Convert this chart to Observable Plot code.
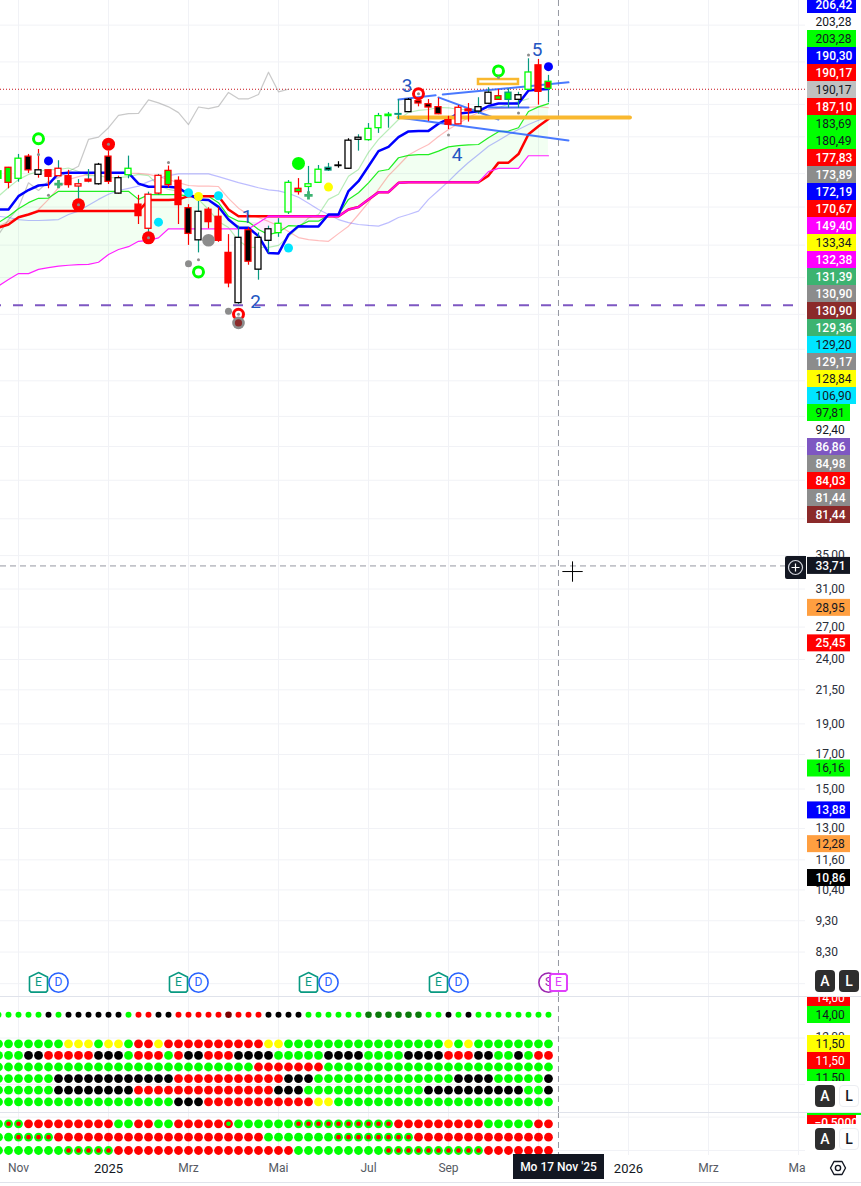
<!doctype html>
<html><head><meta charset="utf-8">
<style>
html,body{margin:0;background:#fff;overflow:hidden}
#stage{position:relative;width:861px;height:1186px;overflow:hidden;font-family:Roboto,sans-serif;background:#fff}
#stage>*{position:absolute}
.hl{left:0;width:861px;height:1px;background:#e0e3eb}
.btn{width:20px;height:22px;border-radius:4px;font:500 14px/22px Roboto,sans-serif;text-align:center}
.dark{background:#2e2e2e;color:#fff}
.light{background:#fff;color:#131722;border:1px solid #eceef2;box-sizing:border-box;line-height:20px}
</style>
<script src="https://cdn.jsdelivr.net/npm/d3@7"></script>
<script src="https://cdn.jsdelivr.net/npm/@observablehq/plot@0.6"></script>
</head><body><div id="stage"></div>
<script>
// ---------- time ----------
const weeks = d3.utcMonday.range(new Date("2024-10-21"), new Date("2025-11-11"));
const xDomain = [new Date("2024-10-22T09:36Z"), new Date("2026-05-08T22:00Z")];
const crossDate = new Date("2025-11-17");
const tickDates = ["2024-11-04","2025-01-06","2025-03-03","2025-05-05","2025-07-07","2025-09-01","2025-11-03","2026-01-05","2026-03-02","2026-05-04"].map(d=>new Date(d));
const tickNames = ["Nov","2025","Mrz","Mai","Jul","Sep","","2026","Mrz","Mai"];

// ---------- candles (one per week) ----------
const bodyTop = [141.2,143.0,147.8,148.9,141.7,141.7,142.5,138.7,134.7,137.0,144.6,148.9,137.7,142.5,125.1,129.7,138.9,141.4,136.4,123.5,121.9,122.8,119.7,105.0,110.9,114.0,110.9,114.4,116.7,135.4,132.5,134.7,142.0,143.0,144.2,157.8,159.5,164.7,172.5,173.4,173.8,183.0,182.1,180.1,178.2,170.0,177.8,176.7,178.2,187.8,185.4,187.8,186.1,202.1,207.4,195.4];
const bodyBottom = [137.4,135.4,137.4,141.7,139.4,138.4,138.7,134.3,133.6,136.0,134.7,135.9,130.2,139.2,120.0,114.6,130.2,134.3,124.9,112.5,109.9,117.4,109.7,94.0,87.5,101.7,98.8,109.7,112.8,121.6,130.9,133.4,135.4,141.6,143.9,142.5,158.3,158.1,165.1,172.5,173.4,175.0,180.6,178.0,173.7,167.2,167.4,175.6,175.4,180.4,183.0,183.0,183.0,189.8,188.4,190.5];
const high = [143.2,143.2,150.1,150.1,152.8,141.7,146.7,141.7,137.0,142.1,145.3,151.9,138.7,149.2,129.4,130.9,139.6,143.9,138.4,125.1,127.5,123.7,123.7,112.2,115.7,115.0,112.9,115.7,118.9,136.5,137.5,143.7,144.2,145.3,146.2,158.9,161.2,167.9,174.2,174.8,183.2,183.9,183.9,183.2,184.1,172.4,179.3,180.6,184.4,191.2,190.0,190.5,188.1,212.4,211.9,200.0];
const low = [136.0,132.5,135.7,140.1,137.7,132.5,138.7,132.8,127.5,135.4,134.3,134.6,129.9,137.4,116.4,112.2,129.4,133.0,116.4,107.9,105.0,114.6,109.1,92.5,87.1,100.4,95.1,104.8,111.1,120.7,129.5,129.9,135.1,141.1,142.8,142.1,151.9,157.5,162.0,165.1,170.4,174.8,178.4,169.2,173.4,164.3,167.2,168.8,173.7,180.0,182.7,177.5,177.5,189.3,179.5,181.0];
const bodyFill = "g g w k w r w r w r w k w w r w w g r k w r r r w k w w w w g w w k k w w w w g t w k k k r w r w w g g w w r r".split(" ");
const bodyLine = "g r g r k r r r r r k r k g r r r r r r k r r r k r k k g g r g g t k k k g g g t k r r r r r r k k r t k g r g".split(" ");
const wickLine = "t r t r r r t r t t k r r t r t t r r r t r r r t r t t t t r t t t k k t t t t t k r r r r r r t t r t t t r t".split(" ");
const candleColors = {g:"#00ff00",r:"#ff0000",k:"#000000",w:"#ffffff",t:"#089981"};

// ---------- indicator lines ----------
const blueLine = [122.9,122.9,129.0,131.9,134.1,134.6,140.1,140.4,140.4,140.4,140.4,140.4,140.4,140.4,135.0,133.5,133.5,133.5,133.0,129.9,127.5,127.2,124.1,118.5,115.0,115.0,111.6,105.0,104.8,112.2,115.7,115.6,115.6,120.7,120.7,131.4,136.2,143.8,151.9,154.3,159.8,163.2,163.5,163.5,167.8,170.8,174.2,174.7,175.6,178.9,180.6,180.6,180.6,189.3,190.0,190.3];
const redLine = [115.1,116.4,119.5,120.7,122.2,122.2,122.2,122.2,122.2,122.2,122.2,122.2,122.2,122.2,122.2,127.2,127.2,127.2,127.5,129.0,129.0,129.0,129.0,122.9,119.9,119.9,119.9,119.9,119.9,119.9,119.9,119.9,119.9,119.9,119.9,122.9,124.0,127.5,130.9,130.9,135.4,135.7,135.7,135.7,135.7,135.7,135.7,135.7,135.7,139.0,145.7,145.7,150.3,161.5,166.3,170.67];
const spanA = [117.2,119.9,123.2,126.0,128.0,128.1,131.3,131.3,131.3,131.3,131.3,131.3,131.3,131.3,127.5,129.7,129.7,129.7,129.7,129.0,129.0,129.0,126.0,119.9,117.8,117.5,114.3,112.2,113.2,115.9,115.7,117.8,117.8,120.4,120.7,127.5,130.6,135.4,141.2,142.1,148.3,149.6,150.0,150.0,151.9,154.3,155.0,155.4,155.6,159.5,163.0,163.4,165.4,175.4,178.4,180.49];
const spanB = [93.1,95.3,97.4,97.4,98.9,99.5,100.1,100.4,100.6,100.7,101.5,104.4,106.3,107.4,109.5,109.9,110.9,114.6,114.6,114.6,114.6,114.6,114.6,114.6,114.6,114.6,117.1,119.9,119.9,119.9,119.9,119.9,119.9,119.9,119.9,122.9,124.0,127.5,130.9,130.9,135.4,135.7,135.7,135.7,135.7,135.7,135.7,135.7,135.7,141.0,142.7,142.7,142.7,149.4,149.4,149.4];
const paleRed = [115.7,117.7,119.4,120.7,122.9,127.5,133.0,137.0,138.5,139.6,140.1,140.4,140.4,140.2,140.1,139.6,138.5,137.0,135.5,134.1,133.8,133.8,133.6,128.0,123.5,120.6,119.4,117.7,115.9,113.5,111.0,110.2,109.8,109.5,112.6,115.7,120.7,126.1,132.2,139.0,144.2,149.8,152.8,155.6,160.2,164.3,168.0,171.7,174.8,176.7,177.4,177.7,178.0,178.0,178.6,177.83];
const paleBlue = [119.9,119.4,118.5,118.1,118.1,118.3,118.5,120.7,122.2,124.8,127.5,129.9,131.7,132.7,133.8,136.0,137.8,139.0,139.9,139.9,139.9,139.9,138.5,137.0,135.5,134.3,133.0,132.0,131.5,130.3,128.5,125.7,122.9,120.7,118.5,117.2,116.4,116.0,115.7,117.2,119.4,120.7,122.2,127.5,131.7,136.1,141.1,145.8,150.1,154.6,157.9,161.4,164.3,167.3,169.9,172.19];
const paleGreen = [129.0,133.1,137.0,139.6,141.1,142.1,142.1,142.9,141.1,139.0,139.0,138.0,138.0,138.5,139.6,139.0,134.1,132.2,131.3,131.3,127.5,122.9,117.7,115.1,109.8,107.1,107.1,107.1,107.9,111.4,115.1,119.2,120.7,127.5,129.9,138.7,142.1,151.2,158.5,164.3,170.4,174.8,176.1,176.7,178.0,177.8,176.7,176.7,177.4,178.0,178.0,180.1,181.8,183.69];
const paleGray = [112.2,118.5,123.8,135.4,131.7,136.2,138.0,141.1,143.8,158.5,159.8,165.4,173.0,174.1,174.2,183.0,181.0,178.4,174.7,167.3,178.3,177.2,178.7,188.0,183.7,183.7,186.6,202.3,188.4,190.17];

// ---------- markers: [week index, price] ----------
const redDots = [[8,125.0],[11,155.8],[15,110.9]];
const greenRings = [[4,158.9],[20,98.0],[50,203.28]];
const redRings = [[24,84.03],[42,187.10]];
const blueDots = [[5,146.6],[55,206.42]];
const seaPlus = [[6,134.8],[31,129.36]];
const cyanDots = [[16,117.4],[19,130.6],[22,129.2],[29,106.9]];
const yellowDots = [[20,128.84],[33,133.34]];
const grayBig = [[21,109.9]];
const grayMid = [[19,100.9],[23,84.98]];
const grayHalo = [[24,81.44]];
const darkRed = [[24,81.44]];
const limeBig = [[30,145.3]];
const graySmall = [[20,102.4],[5,129.4],[17,145.8],[45,161.0],[52,174.4],[53,215.4],[50,198.4],[4,150.0],[8,125.0],[11,155.8],[15,110.9],[24,84.03],[42,187.10]];

// ---------- drawing objects ----------
const waveText = ["1","2","3","4","5"];
const waveDates = ["2025-04-13","2025-04-19","2025-08-03","2025-09-07","2025-11-02"].map(d=>new Date(d));
const wavePrices = [119.8,88.0,192.8,150.0,219.7];
const trendLines = [
  [["2025-07-28",183.2],["2025-08-23",186.0]],
  [["2025-08-28",186.6],["2025-11-24",195.0]],
  [["2025-07-28",171.7],["2025-11-24",157.9]],
  [["2025-08-25",184.6],["2025-10-06",170.4]],
  [["2025-09-29",178.0],["2025-10-27",178.0]]
];
const orangeLine = [["2025-07-28",171.7],["2026-01-06",171.7]];
const orangeBox = [{x1:new Date("2025-09-22"),x2:new Date("2025-10-20"),y1:197.0,y2:193.5}];
const earningsWeeks = [4,18,31,44];
const dividendWeeks = [6,20,33,46];
const eventPrice = 7.43;
const lastPrice = 190.17, crossPrice = 33.71, floorPrice = 86.86;
const cursor = [[new Date("2025-11-26T20:00Z"),33.03]];

// ---------- price axis ----------
const gridPrices = [240,210,180,160,140,124,108,96,84,74,66,58,52,46,40,35,31,27,24,21.5,19,17,15,13,11.6,10.4,9.3,8.3,7.4];
const axisTicks = [35,31,27,24,21.5,19,17,15,13,11.6,10.4,9.3,8.3];
const stackValues = [206.42,203.28,203.28,190.30,190.17,190.17,187.10,183.69,180.49,177.83,173.89,172.19,170.67,149.40,133.34,132.38,131.39,130.90,130.90,129.36,129.20,129.17,128.84,106.90,97.81,92.40,86.86,84.98,84.03,81.44,81.44];
const stackFills = ["#0000ff","none","#00ff00","#0000ff","#ff0000","#c0c0c0","#ff0000","#00ff00","#00ff00","#ff0000","#8c8c8c","#0000ff","#ff0000","#ff00ff","#ffff00","#ff00ff","#3cb371","#8c8c8c","#8b2a2a","#3cb371","#00e5ff","#8c8c8c","#ffff00","#00e5ff","#00ff00","none","#7e57c2","#8c8c8c","#ff0000","#8c8c8c","#8b2a2a"];
const boxValues = [33.71,28.95,25.45,16.16,13.88,12.28,10.86];
const boxFills = ["#131722","#ff9f40","#ff0000","#00ff00","#0000ff","#ff9f40","#000000"];

// ---------- signal rows ----------
const pane1Levels = [14,11.5,10.5,9.5,8.5,7.5,6.5];
const pane1Rows = [
 "ggggg k g kkkkkk g rr kk rrrrr D rrr kkkk gggggg GGGGGG gg k g k gggggggg",
 "ggggggg yyy g yy g rr y rrrrrrrrrr yy gggggggggggggggg y g y gggggggg",
 "ggg kk rrrrr kkk g rrr g r kk rrr kkkk ggggg kkkk gggg kkkk rrr kk gg k g rr",
 "gggggggggggggggggggggggggg rrrrrrr ggggggggggggggggggggggg",
 "gggggg kkkkkkkkkkkk rrrrrrrrrrr kkk gggggggggggggg kkkk ggggg k",
 "gggggg kkkkkkkk rrrrrrrrrrrrrr kkk gggggggggggg kkkkkkkkkk gg k",
 "gggggggggggggggggg kkk rrrrrrrrrrr yy gggggggggggggggggggggg"];
const pane2Levels = [-0.5,-1.5,-2.5];
const pane2Rows = [
 "g GG rrrrrrrrr gg rr gg rrrrr R gggggg GGGGGGGGGG rrrrrrrrr ggggg rr",
 "gg GGGG rrrrrrrrrrrrrrrrrrrrr ggggggg GGGGGGGG rrrrrrrrrrrrrr",
 "ggggggg GGGGG rrrrrrrrrrrrrrrrrr ggggggggg GGGGGGGGGG rrrrrrr"];
const pane1Labels = ["14,00","14,00","11,50","11,50","11,50"];
const pane1Fills = ["#ff0000","#00ff00","#ffff00","#ff0000","#00ff00"];

// ---------- helpers ----------
const FONT = "Roboto, sans-serif";
const stage = document.getElementById("stage");
const place = (el,left,top)=>{el.style.left=left+"px";el.style.top=top+"px";stage.appendChild(el);return el;};
const fmt = v => d3.format(".2f")(v).replace(".",",");
const lightFills = ["#00ff00","#ffff00","#00e5ff","#c0c0c0","#ff9f40","none"];
const ink = c => lightFills.includes(c) ? "#131722" : "#ffffff";
const DAY = 864e5;
const shift = (d,days)=>new Date(+d+days*DAY);
const pts = a => a.map(([i,p])=>({date:weeks[i],price:p}));
const xCfg = {type:"utc",domain:xDomain,range:[0,805],axis:null};
const yDomain = [7.064,262.44];
const gridStroke = "#f1f2f6";
const crossDash = {stroke:"#9598a1",strokeWidth:1,strokeDasharray:"6,4"};
const byI = (arr,off=0)=>({x:(d,i)=>weeks[i+off],y:d=>d});

const candles = weeks.map((date,i)=>({date,top:bodyTop[i],bottom:bodyBottom[i],high:high[i],low:low[i],
  fill:candleColors[bodyFill[i]],line:candleColors[bodyLine[i]],wick:candleColors[wickLine[i]]}));
const cloud = weeks.map((date,i)=>({date,a:spanA[i],b:spanB[i],top:Math.max(spanA[i],spanB[i])}));

// custom marker outlines
const houseSymbol = {draw(c,size){const s=Math.sqrt(size/Math.PI)/10;
  c.moveTo(0,-10*s);c.lineTo(9*s,-5.5*s);c.lineTo(9*s,8*s);c.lineTo(7.5*s,9.5*s);c.lineTo(-7.5*s,9.5*s);c.lineTo(-9*s,8*s);c.lineTo(-9*s,-5.5*s);c.closePath();}};
const squareSymbol = {draw(c,size){const s=Math.sqrt(size/Math.PI)/10;const a=8.5*s,b=7*s;
  c.moveTo(-b,-a);c.lineTo(b,-a);c.lineTo(a,-b);c.lineTo(a,b);c.lineTo(b,a);c.lineTo(-b,a);c.lineTo(-a,b);c.lineTo(-a,-b);c.closePath();}};

const P = {x:"date",y:"price"};
// ---------- main price pane ----------
const main = Plot.plot({
  width:861,height:996,margin:0,
  style:{fontFamily:FONT,background:"transparent"},
  x:xCfg,
  y:{type:"log",domain:yDomain,axis:null},
  marks:[
    Plot.ruleY(gridPrices,{x1:xDomain[0],x2:xDomain[1],stroke:gridStroke,strokeWidth:1}),
    Plot.ruleX(tickDates,{stroke:gridStroke,strokeWidth:1}),
    Plot.areaY(cloud,{x:"date",y1:"b",y2:"top",fill:"#00ff00",fillOpacity:0.05}),
    Plot.areaY(cloud,{x:"date",y1:"a",y2:"top",fill:"#ff00ff",fillOpacity:0.07}),
    Plot.ruleY([floorPrice],{x1:xDomain[0],x2:xDomain[1],stroke:"#7e57c2",strokeWidth:2,strokeDasharray:"10,12",strokeDashoffset:9}),
    Plot.ruleY([lastPrice],{x1:xDomain[0],x2:xDomain[1],stroke:"#c8101a",strokeWidth:1.2,strokeDasharray:"1,2"}),
    Plot.ruleY([crossPrice],{x1:xDomain[0],x2:xDomain[1],...crossDash}),
    Plot.ruleX([crossDate],crossDash),
    Plot.line(paleGray,{...byI(),stroke:"#888888",strokeOpacity:0.45,strokeWidth:1.2}),
    Plot.line(paleRed,{...byI(),stroke:"#ff0000",strokeOpacity:0.26,strokeWidth:1.2}),
    Plot.line(paleBlue,{...byI(),stroke:"#0000ff",strokeOpacity:0.26,strokeWidth:1.2}),
    Plot.line(paleGreen,{...byI(2),stroke:"#00c000",strokeOpacity:0.28,strokeWidth:1.2}),
    Plot.line(spanA,{...byI(),stroke:"#22ee22",strokeWidth:1.2}),
    Plot.line(redLine,{...byI(),stroke:"#ff0000",strokeWidth:2.5}),
    Plot.line(spanB,{...byI(),stroke:"#ff22ff",strokeWidth:1.2}),
    Plot.line(spanB,{...byI(),filter:(d,i)=>d===redLine[i],stroke:"#ff00ff",strokeOpacity:0.55,strokeWidth:2.5}),
    Plot.line(blueLine,{...byI(),stroke:"#0000ff",strokeWidth:2.5}),
    ...trendLines.map(t=>Plot.line(t,{x:d=>new Date(d[0]),y:d=>d[1],stroke:"#2962ff",strokeOpacity:0.85,strokeWidth:2})),
    Plot.line(orangeLine,{x:d=>new Date(d[0]),y:d=>d[1],stroke:"#f9b82f",strokeWidth:4}),
    Plot.rect(orangeBox,{x1:"x1",x2:"x2",y1:"y1",y2:"y2",stroke:"#f9b82f",strokeWidth:2.5}),
    Plot.ruleX(candles,{x:"date",y1:"low",y2:"high",stroke:"wick",strokeWidth:1.2}),
    Plot.rect(candles,{x1:d=>shift(d.date,-2.1),x2:d=>shift(d.date,2.1),y1:"top",y2:"bottom",fill:"fill",stroke:"line",strokeWidth:1.3}),
    Plot.dot(pts(redDots),{...P,r:6.5,fill:"#ff0000"}),
    Plot.dot(pts(greenRings),{...P,r:5,stroke:"#00ff00",strokeWidth:3}),
    Plot.dot(pts(redRings),{...P,r:5,stroke:"#ff0000",strokeWidth:3}),
    Plot.dot(pts(blueDots),{...P,r:4.5,fill:"#0000ff"}),
    Plot.dot(pts(seaPlus),{...P,r:2.8,symbol:"plus",stroke:"#3cb371",strokeWidth:2.8}),
    Plot.dot(pts(cyanDots),{...P,r:4.5,fill:"#00e5ff"}),
    Plot.dot(pts(yellowDots),{...P,r:4.5,fill:"#ffff00"}),
    Plot.dot(pts(grayBig),{...P,r:6.3,fill:"#8c8c8c"}),
    Plot.dot(pts(grayMid),{...P,r:3.5,fill:"#8c8c8c"}),
    Plot.dot(pts(grayHalo),{...P,r:6.3,fill:"#8c8c8c"}),
    Plot.dot(pts(darkRed),{...P,r:3.6,fill:"#8b2a2a"}),
    Plot.dot(pts(limeBig),{...P,r:6.5,fill:"#00ff00"}),
    Plot.dot(pts(graySmall),{...P,r:1.5,fill:"#8c8c8c"}),
    Plot.text(waveText,{x:(d,i)=>waveDates[i],y:(d,i)=>wavePrices[i],text:d=>d,fontSize:19,fill:"#2456c2"}),
    // earnings / dividend flags
    Plot.dot(dividendWeeks,{x:i=>weeks[i],y:()=>eventPrice,r:9.6,fill:"#fff",stroke:"#2962ff",strokeWidth:1.6}),
    Plot.text(dividendWeeks,{x:i=>weeks[i],y:()=>eventPrice,text:()=>"D",fill:"#2962ff",fontSize:12}),
    Plot.dot(earningsWeeks,{x:i=>weeks[i],y:()=>eventPrice,r:10,symbol:houseSymbol,fill:"#fff",stroke:"#089981",strokeWidth:1.6}),
    Plot.text(earningsWeeks,{x:i=>weeks[i],y:()=>eventPrice,text:()=>"E",fill:"#089981",fontSize:12}),
    Plot.dot([55],{x:i=>weeks[i],y:()=>eventPrice,r:9.6,fill:"#fff",stroke:"#9c27b0",strokeWidth:1.6}),
    Plot.text([55],{x:i=>weeks[i],y:()=>eventPrice,text:()=>"S",fill:"#9c27b0",fontSize:12}),
    Plot.dot([crossDate],{x:d=>d,y:()=>eventPrice,r:10,symbol:squareSymbol,fill:"#fff",stroke:"#e040fb",strokeWidth:2}),
    Plot.text([crossDate],{x:d=>d,y:()=>eventPrice,text:()=>"E",fill:"#e040fb",fontSize:12}),
    Plot.dot(cursor,{x:d=>d[0],y:d=>d[1],symbol:"plus",r:6.6,stroke:"#000",strokeWidth:1})
  ]
});
place(main,0,0);

// ---------- signal panes ----------
const signalColors = {g:"#00ff00",k:"#000000",r:"#ff0000",y:"#ffff00",D:"#7a0000",G:"#0b7a0b"};
const rowDots = (rows,levels)=>rows.flatMap((s,j)=>[...s.replace(/ /g,"")].map((c,i)=>({date:weeks[i],level:levels[j],code:c})));
const dots1 = rowDots(pane1Rows,pane1Levels);
const pane1 = Plot.plot({
  width:861,height:116,margin:0,style:{fontFamily:FONT,background:"transparent"},
  x:xCfg,y:{domain:[5.578,15.578],axis:null},
  marks:[
    Plot.ruleY([12,8],{x1:xDomain[0],x2:xDomain[1],stroke:gridStroke}),
    Plot.ruleX(tickDates,{stroke:gridStroke}),
    Plot.ruleX([crossDate],crossDash),
    Plot.dot(dots1.filter(d=>d.level===14),{x:"date",y:"level",r:d=>"DG".includes(d.code)?4.4:3.6,fill:d=>signalColors[d.code]}),
    Plot.dot(dots1.filter(d=>d.level!==14),{x:"date",y:"level",r:4.4,fill:d=>signalColors[d.code]})
  ]
});
place(pane1,0,996);

const dots2 = rowDots(pane2Rows,pane2Levels);
const paneBottom = -2.875, axisTextLevel = -3.85;
const pane2 = Plot.plot({
  width:861,height:74,margin:0,style:{fontFamily:FONT,background:"transparent"},
  x:xCfg,y:{domain:[-5.197,0.346],axis:null},
  marks:[
    Plot.ruleY([0,-2.5],{x1:xDomain[0],x2:xDomain[1],stroke:gridStroke}),
    Plot.ruleX(tickDates,{y1:0.346,y2:paneBottom,stroke:gridStroke}),
    Plot.ruleX([crossDate],{y1:0.346,y2:paneBottom,...crossDash}),
    Plot.dot(dots2,{x:"date",y:"level",r:4.4,fill:d=>"gG".includes(d.code)?"#00ff00":"#ff0000"}),
    Plot.dot(dots2.filter(d=>d.code==="G"||d.code==="R"),{x:"date",y:"level",r:2.3,fill:d=>d.code==="G"?"#ff0000":"#00ff00"}),
    Plot.text(tickNames,{x:(d,i)=>tickDates[i],y:()=>axisTextLevel,text:d=>d,
      fontSize:d=>/^\d/.test(d)?13:12,fill:d=>/^\d/.test(d)?"#131722":"#555962"})
  ]
});
place(pane2,0,1112);

// ---------- price scale panel ----------
const boxK = 1.0313;
const weightOf = c => lightFills.includes(c) ? 400 : 500;
const axisPanel = Plot.plot({
  width:54,height:996,margin:0,style:{fontFamily:FONT,background:"transparent"},
  x:{domain:[0,54],axis:null},
  y:{type:"log",domain:yDomain,axis:null},
  marks:[
    Plot.text(axisTicks,{x:()=>8,y:d=>d,text:fmt,textAnchor:"start",fontSize:12,fill:"#2a2e39"}),
    Plot.rect(boxValues,{x1:()=>0,x2:()=>43,y1:d=>d/boxK,y2:d=>d*boxK,fill:(d,i)=>boxFills[i]}),
    ...[400,500].map(w=>Plot.text(boxValues,{filter:(d,i)=>weightOf(boxFills[i])===w,x:()=>8,y:d=>d,text:fmt,textAnchor:"start",fontSize:12,fontWeight:w,fill:(d,i)=>ink(boxFills[i])}))
  ]
});
place(axisPanel,807,0);

const stack = Plot.plot({
  width:54,height:527,margin:0,style:{fontFamily:FONT,background:"transparent"},
  x:{domain:[0,54],axis:null},
  y:{domain:[0,31],range:[0,527],axis:null},
  marks:[
    Plot.rect(stackValues,{x1:()=>0,x2:(d,i)=>i<=23?49:43,y1:(d,i)=>i,y2:(d,i)=>i+1,fill:(d,i)=>stackFills[i]}),
    ...[400,500].map(w=>Plot.text(stackValues,{filter:(d,i)=>weightOf(stackFills[i])===w,x:()=>8,y:(d,i)=>i+0.5,text:fmt,textAnchor:"start",fontSize:12,fontWeight:w,fill:(d,i)=>ink(stackFills[i])}))
  ]
});
place(stack,807,-4);

const p1 = Plot.plot({
  width:49,height:85,margin:0,style:{fontFamily:FONT,background:"transparent"},
  x:{domain:[0,49],axis:null},
  y:{domain:[7/17,7/17+5],range:[0,85],axis:null},
  marks:[
    Plot.text(["12,00"],{x:()=>8,y:()=>2.82,text:d=>d,textAnchor:"start",fontSize:12,fill:"#2a2e39"}),
    Plot.rect(pane1Labels,{x1:()=>0,x2:()=>43,y1:(d,i)=>i<2?i:i+0.706,y2:(d,i)=>(i<2?i:i+0.706)+1,fill:(d,i)=>pane1Fills[i]}),
    Plot.text(pane1Labels,{x:()=>8,y:(d,i)=>(i<2?i:i+0.706)+0.5,text:d=>d,textAnchor:"start",fontSize:12,fill:(d,i)=>ink(pane1Fills[i])})
  ]
});
place(p1,807,996);

const p2 = Plot.plot({
  width:54,height:12,margin:0,style:{fontFamily:FONT,background:"transparent"},
  x:{domain:[0,54],axis:null},
  y:{domain:[0,12/17],range:[0,12],axis:null},
  marks:[
    Plot.rect([0],{x1:()=>0,x2:()=>49,y1:()=>0.176,y2:()=>1.176,fill:"#ff0000"}),
    Plot.rect([0],{x1:()=>0,x2:()=>54,y1:()=>0,y2:()=>0.176,fill:"#00ff00"}),
    Plot.text(["−0,5000"],{x:()=>7,y:()=>0.6,text:d=>d,textAnchor:"start",fontSize:12,fontWeight:500,fill:"#fff"})
  ]
});
place(p2,807,1112);

// ---------- interface chrome ----------
const html = (tag,css,text)=>{const e=document.createElement(tag);e.style.cssText=css;if(text)e.textContent=text;stage.appendChild(e);return e;};
["996","1112","1182"].forEach(t=>{const e=html("div","top:"+t+"px");e.className="hl";});
html("div","left:806px;top:1155px;width:55px;height:27px;background:#fff");
[[970,"dark"],[1085,"light"],[1128,"light"]].forEach(([t,l])=>{
  html("div","left:815px;top:"+t+"px").className="btn dark";
  stage.lastChild.textContent="A";
  const b=html("div","left:839px;top:"+t+"px","L");b.className="btn "+l;
});
html("div","left:513px;top:1154px;width:91px;height:25px;background:#131722;color:#fff;font:500 12px/27px Roboto,sans-serif;text-align:center","Mo 17 Nov '25");
const plus=document.createElement("div");plus.style.cssText="left:785px;top:556px;width:21px;height:23px;background:#131722;border-radius:2px 0 0 2px";
plus.innerHTML='<svg width="21" height="23"><circle cx="10.5" cy="11.5" r="7" fill="none" stroke="#d1d4dc" stroke-width="1.2"/><path d="M10.5 7.5v8M6.5 11.5h8" stroke="#fff" stroke-width="1.2"/></svg>';
stage.appendChild(plus);
const gear=document.createElement("div");gear.style.cssText="left:829px;top:1159px;width:18px;height:18px";
gear.innerHTML='<svg width="18" height="18"><path d="M5 2.5h8L16.5 9 13 15.5H5L1.5 9z" fill="none" stroke="#131722" stroke-width="1.4" stroke-linejoin="round"/><circle cx="9" cy="9" r="2.6" fill="none" stroke="#131722" stroke-width="1.4"/></svg>';
stage.appendChild(gear);
</script></body></html>
